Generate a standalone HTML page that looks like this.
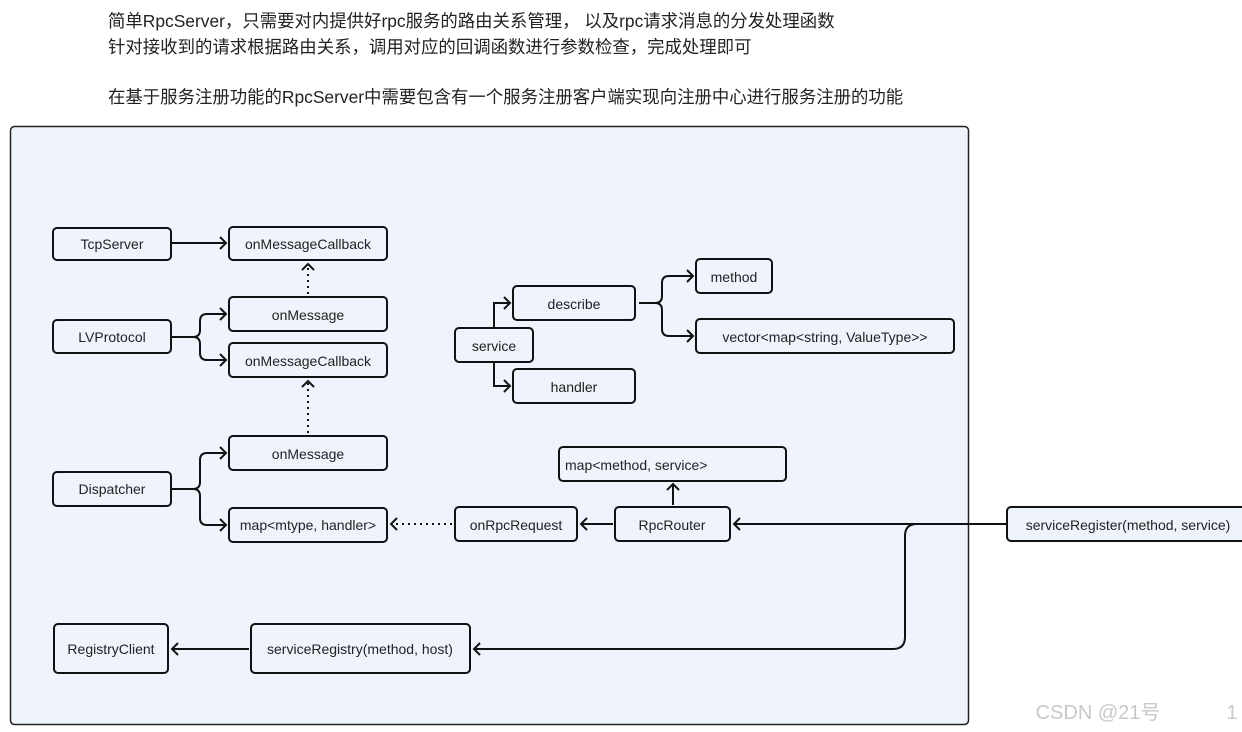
<!DOCTYPE html>
<html><head><meta charset="utf-8"><style>
body{margin:0;background:#fff;width:1242px;height:732px;overflow:hidden;font-family:"Liberation Sans","Noto Sans CJK SC",sans-serif}
.t{position:absolute;left:108px;font-size:17.4px;color:#222;white-space:nowrap}
svg text{font-family:"Liberation Sans","Noto Sans CJK SC",sans-serif;font-size:14px;fill:#222;text-anchor:middle;dominant-baseline:central}
</style></head><body>
<div class="t" style="top:8px">简单RpcServer，只需要对内提供好rpc服务的路由关系管理， 以及rpc请求消息的分发处理函数</div>
<div class="t" style="top:34px">针对接收到的请求根据路由关系，调用对应的回调函数进行参数检查，完成处理即可</div>
<div class="t" style="top:84px">在基于服务注册功能的RpcServer中需要包含有一个服务注册客户端实现向注册中心进行服务注册的功能</div>
<svg width="1242" height="732" style="position:absolute;left:0;top:0">
<defs><marker id="a" markerWidth="12" markerHeight="14" refX="10" refY="7" orient="auto" markerUnits="userSpaceOnUse"><path d="M4 1 L10 7 L4 13" fill="none" stroke="#111" stroke-width="2"/></marker></defs>
<rect x="10.5" y="126.5" width="958" height="598" rx="4" fill="#eff3fc" stroke="#222" stroke-width="1.5"/>
<g fill="#eff3fc" stroke="#111" stroke-width="2">
<rect x="53" y="228" width="118" height="32" rx="4"/>
<rect x="229" y="227" width="158" height="33" rx="4"/>
<rect x="229" y="297" width="158" height="34" rx="4"/>
<rect x="53" y="320" width="118" height="33" rx="4"/>
<rect x="229" y="343" width="158" height="34" rx="4"/>
<rect x="229" y="436" width="158" height="34" rx="4"/>
<rect x="53" y="472" width="118" height="34" rx="4"/>
<rect x="229" y="508" width="158" height="34" rx="4"/>
<rect x="455" y="328" width="78" height="34" rx="4"/>
<rect x="513" y="286" width="122" height="34" rx="4"/>
<rect x="513" y="369" width="122" height="34" rx="4"/>
<rect x="696" y="259" width="76" height="34" rx="4"/>
<rect x="696" y="319" width="258" height="34" rx="4"/>
<rect x="559" y="447" width="227" height="34" rx="4"/>
<rect x="615" y="507" width="115" height="34" rx="4"/>
<rect x="455" y="507" width="122" height="34" rx="4"/>
<rect x="1007" y="507" width="245" height="34" rx="4"/>
<rect x="54" y="624" width="114" height="49" rx="4"/>
<rect x="251" y="624" width="219" height="49" rx="4"/>
</g>
<g fill="none" stroke="#111" stroke-width="2">
<path d="M172 243 H226" marker-end="url(#a)"/>
<path d="M308 294 V264" stroke-dasharray="2 4" marker-end="url(#a)"/>
<path d="M308 433 V381" stroke-dasharray="2 4" marker-end="url(#a)"/>
<path d="M172 337 H193 Q200 337 200 330 V321 Q200 314 207 314 H226" marker-end="url(#a)"/>
<path d="M193 337 Q200 337 200 344 V353 Q200 360 207 360 H226" marker-end="url(#a)"/>
<path d="M172 489 H193 Q200 489 200 482 V460 Q200 453 207 453 H226" marker-end="url(#a)"/>
<path d="M193 489 Q200 489 200 496 V518 Q200 525 207 525 H226" marker-end="url(#a)"/>
<path d="M452 524 H391" stroke-dasharray="2 4" marker-end="url(#a)"/>
<path d="M613 524 H581" marker-end="url(#a)"/>
<path d="M673 505 V484" marker-end="url(#a)"/>
<path d="M1007 524 H734" marker-end="url(#a)"/>
<path d="M917 524 Q905 524 905 536 V637 Q905 649 893 649 H474" marker-end="url(#a)"/>
<path d="M249 649 H172" marker-end="url(#a)"/>
<path d="M494 328 V303 H510" marker-end="url(#a)"/>
<path d="M494 362 V386 H510" marker-end="url(#a)"/>
<path d="M639 303 H655 Q662 303 662 296 V283 Q662 276 669 276 H693" marker-end="url(#a)"/>
<path d="M655 303 Q662 303 662 310 V329 Q662 336 669 336 H693" marker-end="url(#a)"/>
</g>
<text x="112" y="244">TcpServer</text>
<text x="308" y="244">onMessageCallback</text>
<text x="308" y="315">onMessage</text>
<text x="112" y="337">LVProtocol</text>
<text x="308" y="361">onMessageCallback</text>
<text x="308" y="454">onMessage</text>
<text x="112" y="489">Dispatcher</text>
<text x="308" y="525">map&lt;mtype, handler&gt;</text>
<text x="494" y="346">service</text>
<text x="574" y="304">describe</text>
<text x="574" y="387">handler</text>
<text x="734" y="277">method</text>
<text x="825" y="337">vector&lt;map&lt;string, ValueType&gt;&gt;</text>
<text x="565" y="465" style="text-anchor:start">map&lt;method, service&gt;</text>
<text x="672" y="525">RpcRouter</text>
<text x="516" y="525">onRpcRequest</text>
<text x="1128" y="525">serviceRegister(method, service)</text>
<text x="111" y="649">RegistryClient</text>
<text x="360" y="649">serviceRegistry(method, host)</text>
<text x="1098" y="713" style="font-size:20px;fill:#c8c8c8">CSDN @21号</text>
<text x="1232" y="713" style="font-size:20px;fill:#c8c8c8">1</text>
</svg>
</body></html>
